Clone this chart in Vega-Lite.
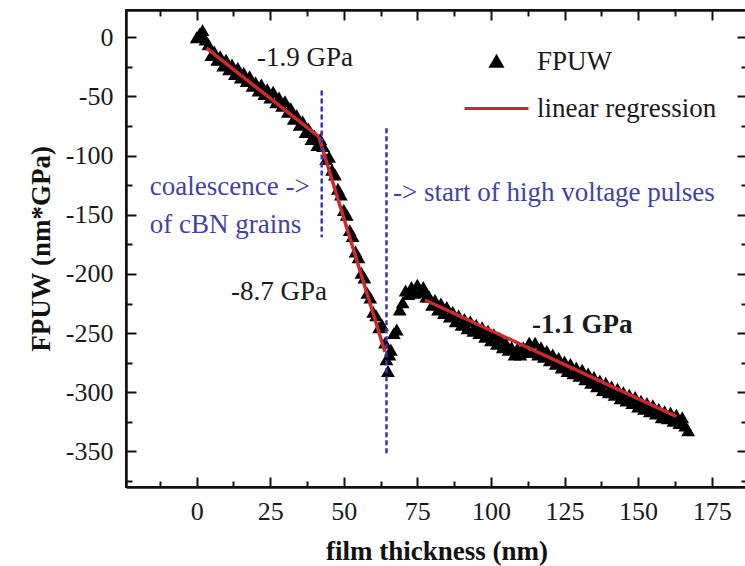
{
  "$schema": "https://vega.github.io/schema/vega-lite/v6.json",
  "width": 621,
  "height": 477,
  "autosize": {"type": "none"},
  "padding": {"left": 126, "top": 10, "right": 0, "bottom": 79},
  "background": "white",
  "config": {"font": "Liberation Serif", "view": {"stroke": "#111111", "strokeWidth": 2}},
  "datasets": {
    "fpuw": [
      {"t":0,"w":0},{"t":1,"w":3},{"t":2,"w":6},{"t":3,"w":-2},{"t":4,"w":-6},{"t":5,"w":-15},{"t":6,"w":-12},{"t":7,"w":-19},{"t":8,"w":-16},{"t":9,"w":-24},
      {"t":10,"w":-19},{"t":11,"w":-27},{"t":12,"w":-23},{"t":13,"w":-31},{"t":14,"w":-26},{"t":15,"w":-34},{"t":16,"w":-30},{"t":17,"w":-37},{"t":18,"w":-33},{"t":19,"w":-41},
      {"t":20,"w":-38},{"t":21,"w":-45},{"t":22,"w":-40},{"t":23,"w":-48},{"t":24,"w":-44},{"t":25,"w":-51},{"t":26,"w":-46},{"t":27,"w":-55},{"t":28,"w":-51},{"t":29,"w":-58},
      {"t":30,"w":-54},{"t":31,"w":-63},{"t":32,"w":-60},{"t":33,"w":-69},{"t":34,"w":-66},{"t":35,"w":-74},{"t":36,"w":-71},{"t":37,"w":-80},{"t":38,"w":-77},{"t":39,"w":-86},
      {"t":40,"w":-83},{"t":41,"w":-91},{"t":42,"w":-86},{"t":43,"w":-92},{"t":44,"w":-103},{"t":45,"w":-101},{"t":46,"w":-112},{"t":47,"w":-116},{"t":48,"w":-128},{"t":49,"w":-133},
      {"t":50,"w":-146},{"t":51,"w":-150},{"t":52,"w":-163},{"t":53,"w":-168},{"t":54,"w":-181},{"t":55,"w":-186},{"t":56,"w":-199},{"t":57,"w":-203},{"t":58,"w":-216},{"t":59,"w":-220},
      {"t":60,"w":-232},{"t":61,"w":-235},{"t":62,"w":-245},{"t":63,"w":-243},{"t":64,"w":-258},{"t":64.5,"w":-272},{"t":65,"w":-282},{"t":65.5,"w":-268},{"t":66,"w":-264},{"t":67,"w":-250},
      {"t":68,"w":-247},{"t":69,"w":-230},{"t":70,"w":-224},{"t":71,"w":-214},{"t":72,"w":-217},{"t":73,"w":-211},{"t":74,"w":-216},{"t":75,"w":-209},{"t":76,"w":-215},{"t":77,"w":-211},
      {"t":78,"w":-219},{"t":79,"w":-219},{"t":80,"w":-226},{"t":81,"w":-222},{"t":82,"w":-230},{"t":83,"w":-225},{"t":84,"w":-233},{"t":85,"w":-228},{"t":86,"w":-236},{"t":87,"w":-232},
      {"t":88,"w":-240},{"t":89,"w":-235},{"t":90,"w":-243},{"t":91,"w":-238},{"t":92,"w":-246},{"t":93,"w":-240},{"t":94,"w":-248},{"t":95,"w":-243},{"t":96,"w":-250},{"t":97,"w":-245},
      {"t":98,"w":-253},{"t":99,"w":-248},{"t":100,"w":-256},{"t":101,"w":-251},{"t":102,"w":-259},{"t":103,"w":-254},{"t":104,"w":-262},{"t":105,"w":-258},{"t":106,"w":-264},{"t":107,"w":-262},
      {"t":108,"w":-268},{"t":109,"w":-263},{"t":110,"w":-268},{"t":111,"w":-262},{"t":112,"w":-266},{"t":113,"w":-258},{"t":114,"w":-266},{"t":115,"w":-258},{"t":116,"w":-268},{"t":117,"w":-262},
      {"t":118,"w":-270},{"t":119,"w":-265},{"t":120,"w":-273},{"t":121,"w":-268},{"t":122,"w":-276},{"t":123,"w":-271},{"t":124,"w":-279},{"t":125,"w":-274},{"t":126,"w":-282},{"t":127,"w":-276},
      {"t":128,"w":-284},{"t":129,"w":-279},{"t":130,"w":-286},{"t":131,"w":-281},{"t":132,"w":-289},{"t":133,"w":-284},{"t":134,"w":-292},{"t":135,"w":-287},{"t":136,"w":-295},{"t":137,"w":-290},
      {"t":138,"w":-298},{"t":139,"w":-292},{"t":140,"w":-300},{"t":141,"w":-295},{"t":142,"w":-302},{"t":143,"w":-297},{"t":144,"w":-305},{"t":145,"w":-300},{"t":146,"w":-307},{"t":147,"w":-302},
      {"t":148,"w":-309},{"t":149,"w":-304},{"t":150,"w":-312},{"t":151,"w":-307},{"t":152,"w":-314},{"t":153,"w":-309},{"t":154,"w":-316},{"t":155,"w":-311},{"t":156,"w":-318},{"t":157,"w":-314},
      {"t":158,"w":-321},{"t":159,"w":-316},{"t":160,"w":-322},{"t":161,"w":-317},{"t":162,"w":-324},{"t":163,"w":-319},{"t":164,"w":-326},{"t":165,"w":-321},{"t":166,"w":-328},{"t":167,"w":-332}
    ],
    "fits": [
      {"seg":1,"t":3.4,"w":-9.3},{"seg":1,"t":41.5,"w":-84},
      {"seg":2,"t":41.5,"w":-84},{"seg":2,"t":64,"w":-266},
      {"seg":3,"t":77.6,"w":-222},{"seg":3,"t":163,"w":-320.4}
    ],
    "marks": [
      {"t":42.5,"w":-45,"w2":-169},
      {"t":64.5,"w":-77,"w2":-353}
    ],
    "slopes": [
      {"t":36.8,"w":-17.5,"label":"-1.9 GPa"},
      {"t":28,"w":-215,"label":"-8.7 GPa"}
    ],
    "slopeBold": [
      {"t":131,"w":-243,"label":"-1.1 GPa"}
    ],
    "notes": [
      {"t":-15.9,"w":-126.4,"label":"coalescence ->"},
      {"t":-15.9,"w":-158.5,"label":"of cBN grains"},
      {"t":66.7,"w":-131.5,"label":"-> start of high voltage pulses"}
    ]
  },
  "layer": [
    {
      "data": {"name": "fpuw"},
      "mark": {"type": "point", "shape": "triangle-up", "filled": true, "size": 190, "opacity": 1},
      "encoding": {
        "x": {"field": "t", "type": "quantitative",
          "scale": {"domain": [-24, 187], "nice": false, "zero": false},
          "axis": {"orient": "bottom", "values": [-12.5,0,12.5,25,37.5,50,62.5,75,87.5,100,112.5,125,137.5,150,162.5,175],
            "labelExpr": "datum.value % 25 === 0 ? (datum.value < 0 ? '-' + abs(datum.value) : '' + datum.value) : ''",
            "title": "film thickness (nm)", "titleFont": "Liberation Serif", "titleFontWeight": "bold", "titleFontSize": 27, "titleColor": "#111111", "titlePadding": 10,
            "labelFont": "Liberation Serif", "labelFontSize": 26, "labelColor": "#1a1a1a", "labelPadding": 21, "labelFlush": false, "labelOverlap": false,
            "tickSize": {"condition": {"test": "datum.value % 25 === 0", "value": -10}, "value": -6},
            "tickColor": "#111111", "tickWidth": 2, "domainColor": "#111111", "domainWidth": 2.5, "grid": false}},
        "y": {"field": "w", "type": "quantitative",
          "scale": {"domain": [-380, 23], "nice": false, "zero": false},
          "axis": {"orient": "left", "values": [-375,-350,-325,-300,-275,-250,-225,-200,-175,-150,-125,-100,-75,-50,-25,0],
            "labelExpr": "datum.value % 50 === 0 ? (datum.value < 0 ? '-' + abs(datum.value) : '' + datum.value) : ''",
            "title": "FPUW (nm*GPa)", "titleFont": "Liberation Serif", "titleFontWeight": "bold", "titleFontSize": 27, "titleColor": "#111111", "titlePadding": 10,
            "labelFont": "Liberation Serif", "labelFontSize": 26, "labelColor": "#1a1a1a", "labelPadding": 23, "labelFlush": false, "labelOverlap": false,
            "tickSize": {"condition": {"test": "datum.value % 50 === 0", "value": -10}, "value": -6},
            "tickColor": "#111111", "tickWidth": 2, "domainColor": "#111111", "domainWidth": 2.5, "grid": false}},
        "color": {"datum": "FPUW", "type": "nominal",
          "scale": {"domain": ["FPUW", "linear regression"], "range": ["#000000", "#cc2a2a"]},
          "legend": {"orient": "none", "legendX": 337, "legendY": 18, "title": null,
            "labelFont": "Liberation Serif", "labelFontSize": 27, "labelColor": "#1a1a1a", "labelOffset": 7, "rowPadding": -12, "labelLimit": 400,
            "encode": {"symbols": {"update": {
              "shape": {"signal": "datum.value === 'FPUW' ? 'triangle-up' : 'stroke'"},
              "size": {"signal": "datum.value === 'FPUW' ? 120 : 4096"},
              "fill": {"signal": "datum.value === 'FPUW' ? '#000000' : 'transparent'"},
              "stroke": {"signal": "datum.value === 'FPUW' ? 'transparent' : '#cc2a2a'"},
              "strokeWidth": {"value": 3},
              "opacity": {"value": 1}}}}}}
      }
    },
    {
      "data": {"name": "fits"},
      "mark": {"type": "line", "strokeWidth": 3.5},
      "encoding": {
        "x": {"field": "t", "type": "quantitative",
          "axis": {"orient": "top", "values": [-12.5,0,12.5,25,37.5,50,62.5,75,87.5,100,112.5,125,137.5,150,162.5,175],
            "labels": false, "title": null,
            "tickSize": {"condition": {"test": "datum.value % 25 === 0", "value": -10}, "value": -6},
            "tickColor": "#111111", "tickWidth": 2, "domainColor": "#111111", "domainWidth": 2.5, "grid": false}},
        "y": {"field": "w", "type": "quantitative",
          "axis": {"orient": "right", "values": [-375,-350,-325,-300,-275,-250,-225,-200,-175,-150,-125,-100,-75,-50,-25,0],
            "labels": false, "title": null,
            "tickSize": {"condition": {"test": "datum.value % 50 === 0", "value": -10}, "value": -6},
            "tickColor": "#111111", "tickWidth": 2, "domainColor": "#111111", "domainWidth": 2.5, "grid": false}},
        "detail": {"field": "seg", "type": "nominal"},
        "color": {"datum": "linear regression", "type": "nominal",
          "legend": {"orient": "none", "legendX": 337, "legendY": 18, "title": null,
            "labelFont": "Liberation Serif", "labelFontSize": 27, "labelColor": "#1a1a1a", "labelOffset": 7, "rowPadding": -12, "labelLimit": 400,
            "encode": {"symbols": {"update": {
              "shape": {"signal": "datum.value === 'FPUW' ? 'triangle-up' : 'stroke'"},
              "size": {"signal": "datum.value === 'FPUW' ? 120 : 4096"},
              "fill": {"signal": "datum.value === 'FPUW' ? '#000000' : 'transparent'"},
              "stroke": {"signal": "datum.value === 'FPUW' ? 'transparent' : '#cc2a2a'"},
              "strokeWidth": {"value": 3},
              "opacity": {"value": 1}}}}}}
      }
    },
    {
      "data": {"name": "marks"},
      "mark": {"type": "rule", "color": "#3434b8", "strokeWidth": 2.5, "strokeDash": [5, 3]},
      "encoding": {
        "x": {"field": "t", "type": "quantitative", "axis": null},
        "y": {"field": "w", "type": "quantitative", "axis": null},
        "y2": {"field": "w2"}
      }
    },
    {
      "data": {"name": "slopes"},
      "mark": {"type": "text", "font": "Liberation Serif", "fontSize": 27, "color": "#1a1a1a", "align": "center", "baseline": "middle"},
      "encoding": {
        "x": {"field": "t", "type": "quantitative", "axis": null},
        "y": {"field": "w", "type": "quantitative", "axis": null},
        "text": {"field": "label"}
      }
    },
    {
      "data": {"name": "slopeBold"},
      "mark": {"type": "text", "font": "Liberation Serif", "fontSize": 27, "fontWeight": "bold", "color": "#1a1a1a", "align": "center", "baseline": "middle"},
      "encoding": {
        "x": {"field": "t", "type": "quantitative", "axis": null},
        "y": {"field": "w", "type": "quantitative", "axis": null},
        "text": {"field": "label"}
      }
    },
    {
      "data": {"name": "notes"},
      "mark": {"type": "text", "font": "Liberation Serif", "fontSize": 27, "color": "#4242a6", "align": "left", "baseline": "middle"},
      "encoding": {
        "x": {"field": "t", "type": "quantitative", "axis": null},
        "y": {"field": "w", "type": "quantitative", "axis": null},
        "text": {"field": "label"}
      }
    }
  ],
  "resolve": {"axis": {"x": "independent", "y": "independent"}}
}
